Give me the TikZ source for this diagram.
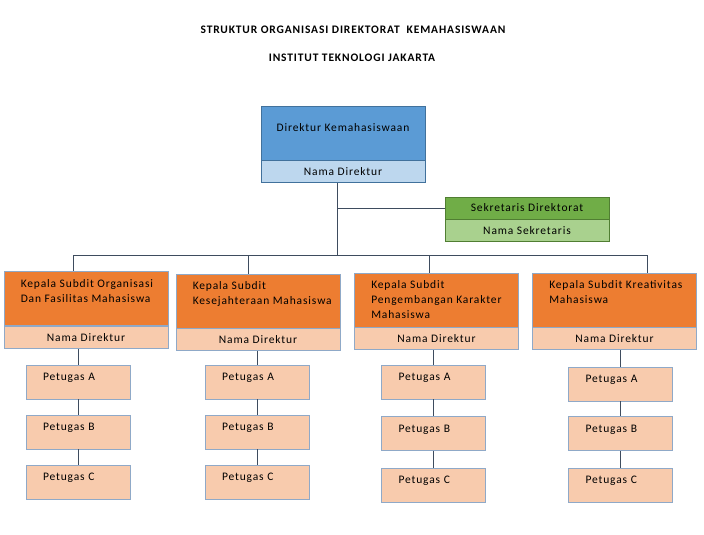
\documentclass[tikz,border=0pt]{standalone}
\usepackage{fontspec}
\setmainfont{Carlito}[LetterSpace=7.5]
\usepackage{tikz}
\usetikzlibrary{positioning}
\definecolor{Blue}{HTML}{5B9BD5}
\definecolor{BlueLight}{HTML}{BDD7EE}
\definecolor{BlueLine}{HTML}{41719C}
\definecolor{Green}{HTML}{70AD47}
\definecolor{GreenLight}{HTML}{A9D18E}
\definecolor{GreenLine}{HTML}{507E32}
\definecolor{Orange}{HTML}{ED7D31}
\definecolor{Peach}{HTML}{F8CBAD}
\definecolor{BoxLine}{HTML}{8FA9C8}
\definecolor{Wire}{HTML}{3E4C5E}

\begin{document}
\begin{tikzpicture}[x=1pt,y=-1pt,
    every node/.style={font=\fontsize{11.5}{15}\selectfont,inner sep=0pt},
    title/.style={font=\fontsize{11.5}{13}\selectfont\bfseries},
    bigbox/.style={draw=#1,line width=.9pt,minimum width=164,minimum height=54},
    namebox/.style={draw=#1,line width=.9pt,minimum width=164,minimum height=22},
    headtext/.style={anchor=north west,align=left,xshift=17,yshift=-8},
    petugas/.style={draw=BoxLine,fill=Peach,line width=.9pt,minimum width=104,minimum height=34,
      text width=70,align=left,text depth=10pt},
    wire/.style={draw=Wire,line width=.8pt}]
  \fill[white] (0,0) rectangle (704,535);
  \useasboundingbox (0,0) rectangle (704,535);

  \node[title] (judul) at (353,30) {STRUKTUR ORGANISASI DIREKTORAT\ \ KEMAHASISWAAN};
  \node[title] (institut) at (352,58) {INSTITUT TEKNOLOGI JAKARTA};

  % direktur dan sekretaris
  \node[bigbox=BlueLine,fill=Blue,text depth=11pt] (dir) at (343,133) {Direktur Kemahasiswaan};
  \node[namebox=BlueLine,fill=BlueLight,below=0pt of dir] (dirnama) {Nama Direktur};
  \node[namebox=GreenLine,fill=Green] (sek) at (527,208) {Sekretaris Direktorat};
  \node[namebox=GreenLine,fill=GreenLight,below=0pt of sek] (seknama) {Nama Sekretaris};

  % kepala subdit
  \node[bigbox=BoxLine,fill=Orange] (k1) at (86,298.5) {};
  \node[bigbox=BoxLine,fill=Orange] (k2) at (258,301) {};
  \node[bigbox=BoxLine,fill=Orange] (k3) at (436.5,300) {};
  \node[bigbox=BoxLine,fill=Orange] (k4) at (614.5,300) {};
  \node[headtext] (t1) at (k1.north west) {Kepala Subdit Organisasi\\Dan Fasilitas Mahasiswa};
  \node[headtext] (t2) at (k2.north west) {Kepala Subdit\\Kesejahteraan Mahasiswa};
  \node[headtext] (t3) at (k3.north west) {Kepala Subdit\\Pengembangan Karakter\\Mahasiswa};
  \node[headtext] (t4) at (k4.north west) {Kepala Subdit Kreativitas\\Mahasiswa};
  \foreach \i in {1,...,4}
    \node[namebox=BoxLine,fill=Peach,below=0pt of k\i] (n\i) {Nama Direktur};

  % petugas
  \foreach \i/\x/\ya/\yb/\yc in {1/78/382/432/482,2/257/382/432/482,
      3/433.5/382/433.5/485,4/620.5/384/433.5/485} {
    \node[petugas] (p\i a) at (\x,\ya) {Petugas A};
    \node[petugas] (p\i b) at (\x,\yb) {Petugas B};
    \node[petugas] (p\i c) at (\x,\yc) {Petugas C};
    \draw[wire] (p\i a.north) -- (p\i a.north |- n\i.south);
    \draw[wire] (p\i a) -- (p\i b);
    \draw[wire] (p\i b) -- (p\i c);
  }

  % garis penghubung
  \coordinate (bus) at (337,255);
  \coordinate (b1) at (73,255);
  \coordinate (b2) at (248,255);
  \coordinate (b3) at (429,255);
  \coordinate (b4) at (647,255);
  \draw[wire] (bus |- dirnama.south) -- (bus);
  \draw[wire] (sek.west) -- (sek.west -| bus);
  \draw[wire] (b1) -- (b4);
  \foreach \i in {1,...,4}
    \draw[wire] (b\i) -- (b\i |- k\i.north);
\end{tikzpicture}
\end{document}
